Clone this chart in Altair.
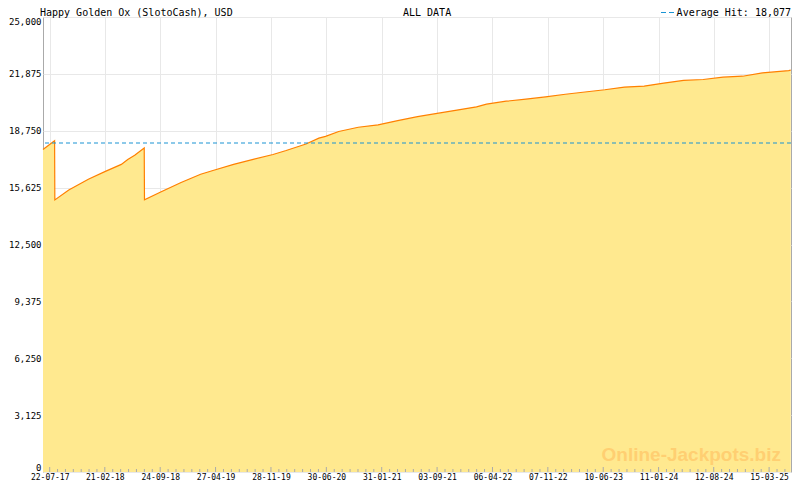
import altair as alt
import pandas as pd

# ---- data ----
dates = [
    "2017-06-26", "2017-08-10", "2017-08-11", "2017-10-04", "2017-12-19",
    "2018-02-21", "2018-04-26", "2018-05-21", "2018-06-17", "2018-07-24",
    "2018-07-25", "2018-09-28", "2018-12-14", "2019-02-28", "2019-04-20",
    "2019-07-06", "2019-09-20", "2019-12-06", "2020-01-26", "2020-04-12",
    "2020-06-01", "2020-06-27", "2020-08-17", "2020-11-01", "2021-01-17",
    "2021-04-03", "2021-06-19", "2021-09-03", "2021-11-19", "2022-02-03",
    "2022-03-14", "2022-05-29", "2022-08-14", "2022-10-29", "2023-01-14",
    "2023-03-31", "2023-06-16", "2023-08-31", "2023-11-16", "2024-01-31",
    "2024-04-17", "2024-07-02", "2024-09-17", "2024-12-02", "2025-02-17",
    "2025-05-30", "2025-06-07",
]
values = [
    17717, 18205, 14951, 15494, 16090,
    16502, 16903, 17175, 17408, 17804,
    14951, 15401, 15906, 16361, 16578,
    16903, 17175, 17446, 17663, 18021,
    18346, 18438, 18709, 18943, 19073,
    19306, 19523, 19702, 19886, 20065,
    20211, 20374, 20483, 20607, 20754,
    20879, 21003, 21150, 21204, 21367,
    21513, 21567, 21692, 21746, 21925,
    22055, 22080,
]
average_hit = 18077
major_ticks = [
    "2017-07-22", "2018-02-21", "2018-09-24", "2019-04-27", "2019-11-28",
    "2020-06-30", "2021-01-31", "2021-09-03", "2022-04-06", "2022-11-07",
    "2023-06-10", "2024-01-11", "2024-08-12", "2025-03-15",
]
y_ticks = [0, 3125, 6250, 9375, 12500, 15625, 18750, 21875, 25000]
title_text = "Happy Golden Ox (SlotoCash), USD"
center_text = "ALL DATA"
legend_text = "Average Hit: 18,077"
watermark = "Online-Jackpots.biz"

domain_start = "2017-06-26"
domain_end = "2025-06-08"

# ---- layout ----
W, H = 748, 455
FONT = "DejaVu Sans Mono"


def ms(d):
    return int(pd.Timestamp(d, tz="UTC").value // 10**6)


major_ms = [ms(d) for d in major_ticks]
minor_ms = []
for a, b in zip(major_ms[:-1], major_ms[1:]):
    step = (b - a) / 7
    minor_ms += [a + k * step for k in range(1, 7)]
step = (major_ms[-1] - major_ms[-2]) / 7
t = major_ms[-1] + step
while t < ms(domain_end):
    minor_ms.append(t)
    t += step

df = pd.DataFrame({"date": dates, "value": values})
xscale = alt.Scale(type="utc", domain=[ms(domain_start), ms(domain_end)], nice=False)
yscale = alt.Scale(domain=[0, 25000], nice=False, zero=True)

xaxis = alt.Axis(
    values=major_ms, labelExpr="utcFormat(datum.value, '%d-%m-%y')",
    title=None, ticks=False, domain=False, grid=True, gridColor="#E8E8E8",
    labelFont=FONT, labelFontSize=8, labelColor="#000000", labelPadding=1,
    labelFlush=False, labelOverlap=False,
)
yaxis = alt.Axis(
    values=y_ticks, labelExpr="format(datum.value, ',')", title=None,
    ticks=False, domain=False, grid=True, gridColor="#E8E8E8",
    labelFont=FONT, labelFontSize=9, labelColor="#000000", labelPadding=2,
    labelFlush=True, labelOverlap=False,
)

area = alt.Chart(df).mark_area(
    color="#FFE98F", opacity=1, fillOpacity=1,
    line={"color": "#FF8000", "strokeWidth": 1.2},
).encode(
    x=alt.X("date:T", scale=xscale, axis=xaxis),
    y=alt.Y("value:Q", scale=yscale, axis=yaxis),
)

avg = alt.Chart(pd.DataFrame({"v": [average_hit]})).mark_rule(
    color="#1A94D4", strokeDash=[4, 3], strokeWidth=1.2
).encode(y=alt.Y("v:Q", scale=yscale, axis=yaxis))

major_df = pd.DataFrame({"t": major_ms})
minor_df = pd.DataFrame({"t": minor_ms})
major_tk = alt.Chart(major_df).mark_rule(color="#AAAAAA").encode(
    x=alt.X("t:T", scale=xscale, axis=xaxis), y=alt.value(H - 5), y2=alt.value(H)
)
minor_tk = alt.Chart(minor_df).mark_rule(color="#AAAAAA").encode(
    x=alt.X("t:T", scale=xscale, axis=xaxis), y=alt.value(H - 3), y2=alt.value(H)
)


def label(txt, x, y, align="left", **kw):
    return alt.Chart(pd.DataFrame({"t": [txt]})).mark_text(
        align=align, baseline="alphabetic", **kw
    ).encode(x=alt.value(x), y=alt.value(y), text="t:N")


title = label(title_text, -3, -1.5, font=FONT, fontSize=10, color="#000000")
center = label(center_text, 360, -1.5, font=FONT, fontSize=10, color="#000000")
legend = label(legend_text, W, -1.5, align="right", font=FONT, fontSize=10, color="#000000")
legend_dash = alt.Chart(pd.DataFrame({"a": [0]})).mark_rule(
    color="#1A94D4", strokeDash=[5, 3], strokeWidth=1.2
).encode(x=alt.value(W - 130), x2=alt.value(W - 116), y=alt.value(-4.5))
wm = label(watermark, W - 10, H - 11, align="right", font="Liberation Sans",
           fontSize=19, fontWeight="bold", color="#FFCF72")

chart = alt.layer(
    area, wm, avg, minor_tk, major_tk, title, center, legend, legend_dash
).properties(
    width=W, height=H,
    autosize=alt.AutoSizeParams(type="none"),
    padding={"left": 35, "top": 9, "right": 1, "bottom": 10},
).configure_view(
    stroke="#AAAAAA", strokeWidth=1
)

chart.save("out.html", embed_options={"renderer": "svg", "actions": False})
